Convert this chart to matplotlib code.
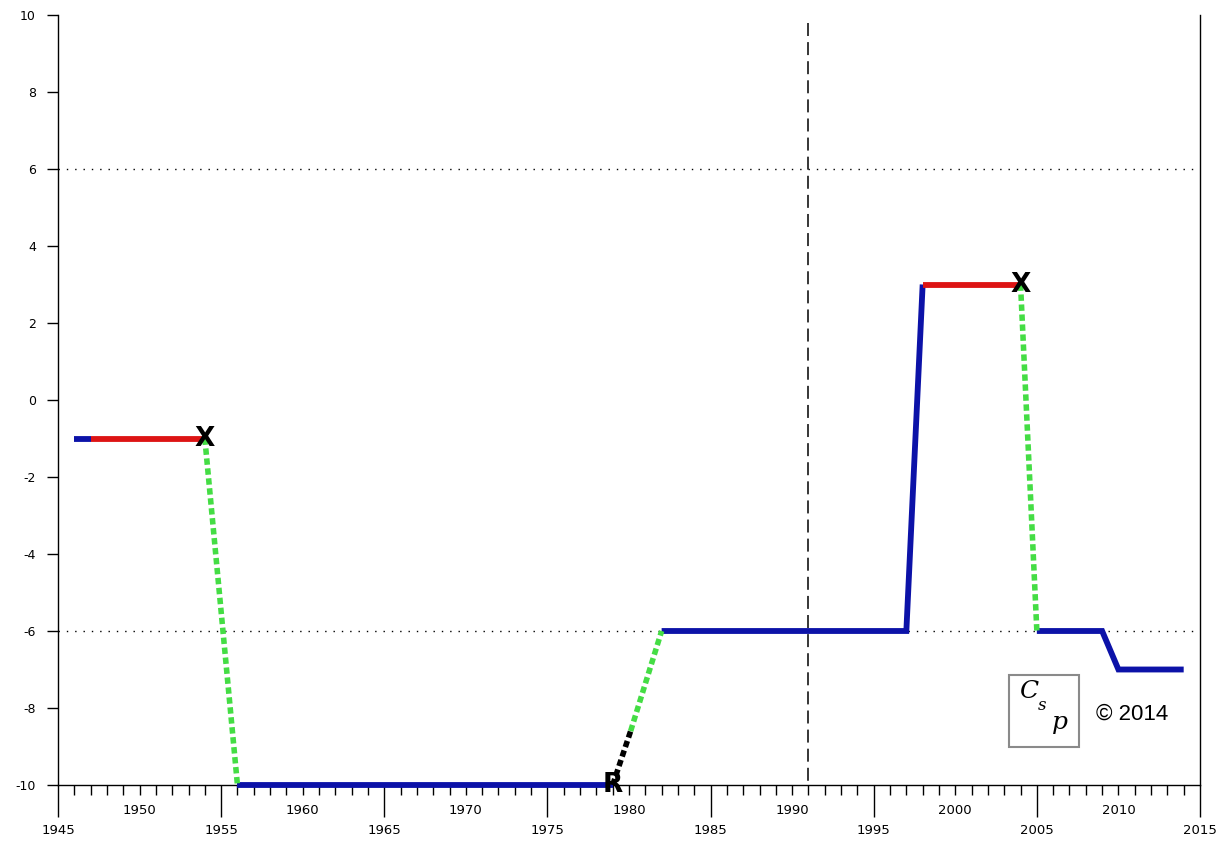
import matplotlib
matplotlib.use('Agg')
import matplotlib.pyplot as plt
from matplotlib.ticker import FixedLocator, FuncFormatter, MultipleLocator
from matplotlib.patches import Rectangle

# ---- data ----
blue1_years = [1946, 1947]
blue1_vals = [-1, -1]
red1_years = [1947, 1954]
red1_vals = [-1, -1]
green1_years = [1954, 1956]
green1_vals = [-1, -10]
blue2_years = [1956, 1979]
blue2_vals = [-10, -10]
black_years = [1979, 1980.1]
black_vals = [-10, -8.6]
green2_years = [1980.1, 1982]
green2_vals = [-8.6, -6]
blue3_years = [1982, 1997, 1998]
blue3_vals = [-6, -6, 3]
red2_years = [1998, 2004]
red2_vals = [3, 3]
green3_years = [2004, 2005]
green3_vals = [3, -6]
blue4_years = [2005, 2009, 2010, 2014]
blue4_vals = [-6, -6, -7, -7]

x_marker_years = [1954, 2004]
x_marker_vals = [-1, 3]
r_marker_year = 1979
r_marker_val = -10

ref_levels = [6, -6]
ref_year = 1991

major_years = list(range(1945, 2016, 10))
upper_label_years = list(range(1950, 2011, 10))
y_ticks = list(range(-10, 11, 2))

BLUE = '#0c12a8'
RED = '#dd1414'
GREEN = '#44dd44'

fig = plt.figure(figsize=(12.2, 8.43), dpi=100)
ax = fig.add_axes([58/1220, 1-785/843, (1200-58)/1220, (785-15)/843])
ax.set_xlim(1945, 2015)
ax.set_ylim(-10, 10)

# spines
ax.spines['top'].set_visible(False)
for s in ['left', 'right', 'bottom']:
    ax.spines[s].set_color('black')
    ax.spines[s].set_linewidth(1.0)

# ticks
ax.xaxis.set_major_locator(FixedLocator(major_years))
ax.xaxis.set_minor_locator(MultipleLocator(1))
ax.xaxis.set_minor_formatter(FuncFormatter(lambda v, p: str(int(round(v))) if int(round(v)) in upper_label_years else ''))
ax.tick_params(axis='x', which='major', direction='out', length=23, width=1.0,
               pad=5, labelsize=9.5, bottom=True, top=False)
ax.tick_params(axis='x', which='minor', direction='out', length=7.5, width=1.0,
               pad=6, labelsize=9.5, bottom=True, top=False)
ax.set_yticks(y_ticks)
ax.tick_params(axis='y', which='major', direction='out', length=8, width=1.0,
               pad=8, labelsize=9, left=True, right=False)
ax.set_yticklabels([str(v) for v in y_ticks])

# reference lines
for lv in ref_levels:
    ax.axhline(lv, color='black', lw=1.0, linestyle=(0, (1, 5)), zorder=1)
ax.plot([ref_year, ref_year], [9.8, -10], color='black', lw=1.1,
        linestyle=(0, (8.5, 4)), zorder=1)

# series
lw = 4.2
kw = dict(solid_capstyle='butt', solid_joinstyle='miter', clip_on=False, zorder=3)
ax.plot(blue1_years, blue1_vals, color=BLUE, lw=lw, **kw)
ax.plot(red1_years, red1_vals, color=RED, lw=lw, **kw)
ax.plot(blue2_years, blue2_vals, color=BLUE, lw=lw, **kw)
ax.plot(blue3_years, blue3_vals, color=BLUE, lw=lw, **kw)
ax.plot(red2_years, red2_vals, color=RED, lw=lw, **kw)
ax.plot(blue4_years, blue4_vals, color=BLUE, lw=lw, **kw)

dkw = dict(lw=4.0, linestyle=(0, (1.15, 0.65)), dash_capstyle='butt', clip_on=False, zorder=3)
ax.plot(green1_years, green1_vals, color=GREEN, **dkw)
ax.plot(green2_years, green2_vals, color=GREEN, **dkw)
ax.plot(green3_years, green3_vals, color=GREEN, **dkw)
ax.plot(black_years, black_vals, color='black', **dkw)

# markers
for xm, ym in zip(x_marker_years, x_marker_vals):
    ax.text(xm, ym, 'X', fontsize=19, fontweight='bold', ha='center', va='center',
            color='black', zorder=5)
ax.text(r_marker_year, r_marker_val, 'R', fontsize=19, fontweight='bold', ha='center',
        va='center', color='black', zorder=5, clip_on=False)

# logo box
box = Rectangle((1009/1220, 1-747/843), 70/1220, 72/843, transform=fig.transFigure,
                facecolor='white', edgecolor='#8a8a8a', lw=1.5, zorder=2)
fig.patches.append(box)
fig.text(1029/1220, 1-691/843, 'C', fontsize=18, family='DejaVu Serif', style='italic',
         ha='center', va='center', zorder=6)
fig.text(1042/1220, 1-705/843, 's', fontsize=12, family='DejaVu Serif', style='italic',
         ha='center', va='center', zorder=6)
fig.text(1060/1220, 1-723/843, 'p', fontsize=18, family='DejaVu Serif', style='italic',
         ha='center', va='center', zorder=6)
fig.text(1096/1220, 1-714/843, '\u00a9 2014', fontsize=16, family='Liberation Sans',
         ha='left', va='center', zorder=6)

fig.savefig('out.png', dpi=100, facecolor='white')
